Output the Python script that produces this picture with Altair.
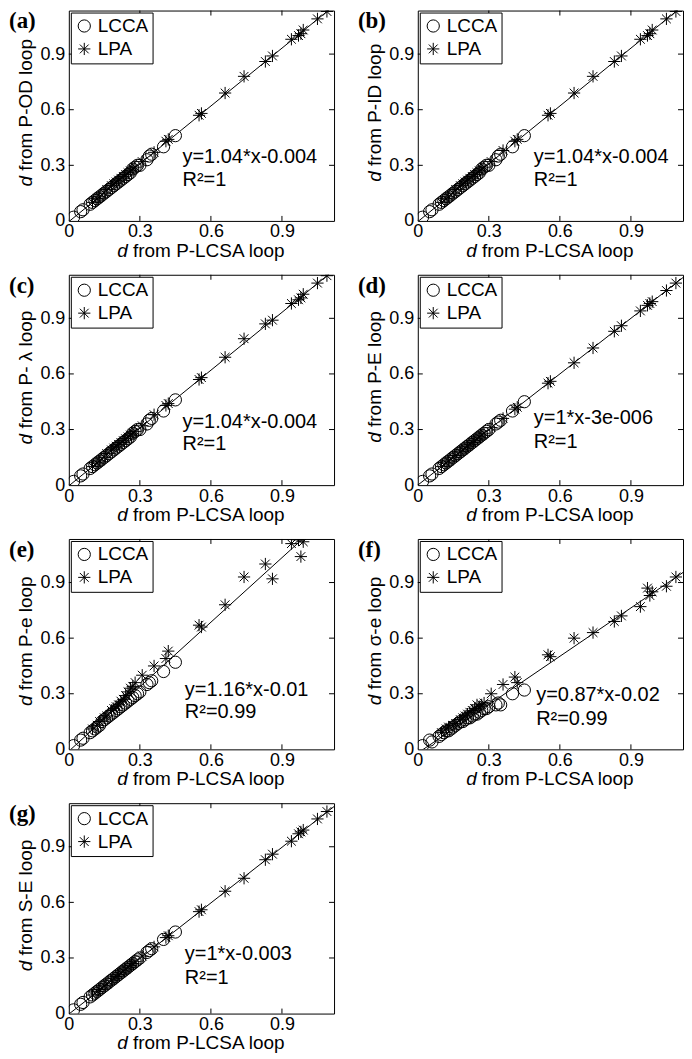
import altair as alt
import pandas as pd

# ---------------- data ----------------
panel_labels = ["(a)", "(b)", "(c)", "(d)", "(e)", "(f)", "(g)"]
y_titles = ["from P-OD loop", "from P-ID loop", "from P- λ loop", "from P-E loop",
            "from P-e loop", "from σ-e loop", "from S-E loop"]
x_title = "from P-LCSA loop"
equations = ["y=1.04*x-0.004", "y=1.04*x-0.004", "y=1.04*x-0.004", "y=1*x-3e-006",
             "y=1.16*x-0.01", "y=0.87*x-0.02", "y=1*x-0.003"]
r2_texts = ["R²=1", "R²=1", "R²=1", "R²=1", "R²=0.99", "R²=0.99", "R²=1"]
fit_slopes = [1.04, 1.04, 1.04, 1.0, 1.16, 0.87, 1.0]
fit_intercepts = [-0.004, -0.004, -0.004, -0.000003, -0.01, -0.02, -0.003]
eq_x = [0.48, 0.49, 0.48, 0.49, 0.49, 0.50, 0.49]
eq_y = [0.31, 0.31, 0.31, 0.33, 0.29, 0.26, 0.29]
r2_y = [0.19, 0.19, 0.19, 0.20, 0.17, 0.13, 0.16]
tick_values = [0, 0.3, 0.6, 0.9]
inner_ticks = [0.3, 0.6, 0.9]
fit_x = [0.0, 1.12]

# d from P-LCSA loop (shared x values)
lcca_x = [0.02, 0.05, 0.06, 0.09, 0.10, 0.11, 0.12, 0.13, 0.14, 0.15, 0.16, 0.17, 0.18, 0.19, 0.20,
          0.21, 0.22, 0.23, 0.24, 0.25, 0.26, 0.27, 0.28, 0.29, 0.30, 0.33, 0.34, 0.35, 0.40, 0.45]
lpa_x = [0.10, 0.12, 0.13, 0.15, 0.16, 0.18, 0.19, 0.20, 0.21, 0.22, 0.23, 0.24, 0.25, 0.26, 0.27, 0.28,
         0.31, 0.36, 0.41, 0.42, 0.55, 0.56, 0.66, 0.74, 0.83, 0.86, 0.94, 0.97, 0.98, 0.99, 1.05, 1.09]

# (a) P-OD
pod_lcca = [0.02, 0.05, 0.06, 0.09, 0.10, 0.11, 0.12, 0.13, 0.14, 0.15, 0.16, 0.17, 0.18, 0.19, 0.20,
            0.21, 0.22, 0.23, 0.24, 0.25, 0.26, 0.28, 0.29, 0.30, 0.30, 0.33, 0.35, 0.36, 0.40, 0.46]
pod_lpa = [0.10, 0.12, 0.13, 0.15, 0.17, 0.19, 0.20, 0.21, 0.22, 0.23, 0.24, 0.25, 0.26, 0.27, 0.28, 0.29,
           0.32, 0.37, 0.43, 0.44, 0.57, 0.58, 0.69, 0.78, 0.86, 0.89, 0.98, 1.00, 1.01, 1.03, 1.09, 1.13]
# (b) P-ID
pid_lcca = [0.02, 0.05, 0.06, 0.09, 0.10, 0.11, 0.12, 0.13, 0.14, 0.15, 0.16, 0.17, 0.18, 0.19, 0.20,
            0.21, 0.22, 0.23, 0.24, 0.25, 0.26, 0.28, 0.29, 0.30, 0.30, 0.33, 0.35, 0.36, 0.40, 0.46]
pid_lpa = [0.10, 0.12, 0.13, 0.15, 0.17, 0.19, 0.20, 0.21, 0.22, 0.23, 0.24, 0.25, 0.26, 0.27, 0.28, 0.29,
           0.32, 0.38, 0.43, 0.44, 0.57, 0.58, 0.69, 0.78, 0.86, 0.89, 0.98, 1.00, 1.01, 1.03, 1.09, 1.13]
# (c) P-lambda
plam_lcca = [0.02, 0.05, 0.06, 0.09, 0.10, 0.11, 0.12, 0.13, 0.14, 0.15, 0.16, 0.17, 0.18, 0.19, 0.20,
             0.21, 0.22, 0.23, 0.24, 0.25, 0.26, 0.28, 0.29, 0.30, 0.30, 0.33, 0.35, 0.36, 0.40, 0.46]
plam_lpa = [0.10, 0.12, 0.13, 0.15, 0.17, 0.19, 0.20, 0.21, 0.22, 0.23, 0.24, 0.25, 0.26, 0.27, 0.28, 0.29,
            0.32, 0.38, 0.43, 0.44, 0.57, 0.58, 0.69, 0.79, 0.87, 0.89, 0.98, 1.00, 1.01, 1.03, 1.09, 1.13]
# (d) P-E
pe_lcca = [0.02, 0.05, 0.06, 0.09, 0.10, 0.11, 0.12, 0.13, 0.14, 0.15, 0.16, 0.17, 0.18, 0.19, 0.20,
           0.21, 0.22, 0.23, 0.24, 0.25, 0.26, 0.27, 0.28, 0.29, 0.30, 0.33, 0.34, 0.35, 0.40, 0.45]
pe_lpa = [0.10, 0.12, 0.13, 0.15, 0.16, 0.18, 0.19, 0.20, 0.21, 0.22, 0.23, 0.24, 0.25, 0.26, 0.27, 0.28,
          0.31, 0.36, 0.41, 0.42, 0.55, 0.56, 0.66, 0.74, 0.83, 0.86, 0.94, 0.97, 0.98, 0.99, 1.05, 1.09]
# (e) P-e
pse_lcca = [0.02, 0.05, 0.06, 0.09, 0.10, 0.11, 0.12, 0.13, 0.15, 0.16, 0.17, 0.18, 0.19, 0.20, 0.21,
            0.22, 0.23, 0.24, 0.25, 0.26, 0.27, 0.28, 0.29, 0.30, 0.31, 0.35, 0.36, 0.37, 0.42, 0.47]
pse_lpa = [0.11, 0.13, 0.15, 0.17, 0.18, 0.21, 0.22, 0.23, 0.24, 0.26, 0.27, 0.29, 0.31, 0.33, 0.34, 0.36,
           0.40, 0.45, 0.49, 0.53, 0.67, 0.66, 0.78, 0.93, 1.00, 0.92, 1.11, 1.13, 1.04, 1.12, 1.21, 1.26]
# (f) sigma-e
sige_lcca = [0.02, 0.05, 0.04, 0.07, 0.08, 0.09, 0.10, 0.10, 0.11, 0.12, 0.13, 0.14, 0.15, 0.15, 0.16,
             0.17, 0.17, 0.18, 0.19, 0.19, 0.20, 0.21, 0.22, 0.22, 0.23, 0.24, 0.25, 0.24, 0.30, 0.32]
sige_lpa = [0.09, 0.11, 0.12, 0.13, 0.14, 0.16, 0.17, 0.18, 0.19, 0.20, 0.21, 0.22, 0.24, 0.23, 0.24, 0.25,
            0.30, 0.35, 0.39, 0.36, 0.51, 0.50, 0.60, 0.63, 0.69, 0.72, 0.77, 0.87, 0.83, 0.85, 0.88, 0.93]
# (g) S-E
se_lcca = [0.02, 0.05, 0.06, 0.09, 0.10, 0.11, 0.12, 0.13, 0.14, 0.15, 0.16, 0.17, 0.18, 0.19, 0.20,
           0.21, 0.22, 0.23, 0.24, 0.25, 0.26, 0.27, 0.28, 0.29, 0.30, 0.33, 0.34, 0.35, 0.40, 0.44]
se_lpa = [0.10, 0.12, 0.13, 0.15, 0.16, 0.18, 0.19, 0.20, 0.21, 0.22, 0.23, 0.24, 0.25, 0.26, 0.27, 0.28,
          0.31, 0.36, 0.41, 0.42, 0.55, 0.56, 0.66, 0.73, 0.83, 0.86, 0.93, 0.97, 0.98, 0.99, 1.05, 1.09]

lcca_ys = [pod_lcca, pid_lcca, plam_lcca, pe_lcca, pse_lcca, sige_lcca, se_lcca]
lpa_ys = [pod_lpa, pid_lpa, plam_lpa, pe_lpa, pse_lpa, sige_lpa, se_lpa]

# ---------------- style ----------------
W, H = 266, 211
FS = 19       # legend / titles
LFS = 18      # tick labels
SANS = "Liberation Sans"
STAR = "M-1,0L1,0M0,-1L0,1M-0.72,-0.72L0.72,0.72M-0.72,0.72L0.72,-0.72"
ARIAL_W = {'d': .556, 'f': .278, 'r': .333, 'o': .556, 'm': .833, ' ': .278, 'P': .667, '-': .333,
           'O': .778, 'D': .722, 'I': .278, 'E': .667, 'e': .556, 'S': .667, 'L': .556, 'C': .722,
           'A': .667, 'l': .222, 'p': .556, 'λ': .56, 'σ': .6}


def tw(s, fs=FS):
    return sum(ARIAL_W.get(c, .556) for c in s) * fs


xs = alt.Scale(domain=[0, 1.12], nice=False, zero=False)
ys = alt.Scale(domain=[0, 1.135], nice=False, zero=False)
XAXIS = alt.Axis(values=tick_values, format="~g", title=None, ticks=False, domain=False,
                 grid=False, labelFontSize=LFS, labelFont=SANS, labelColor="black",
                 labelPadding=2, labelFlush=False, labelOverlap=False)
YAXIS = alt.Axis(values=tick_values, format="~g", title=None, ticks=False, domain=False,
                 grid=False, labelFontSize=LFS, labelFont=SANS, labelColor="black",
                 labelPadding=4, labelFlush=False, labelOverlap=False)


def X(field):
    return alt.X(field, scale=xs, axis=XAXIS)


def Y(field):
    return alt.Y(field, scale=ys, axis=YAXIS)


def make_panel(i):
    pts = pd.DataFrame({
        "x": lcca_x + lpa_x,
        "y": lcca_ys[i] + lpa_ys[i],
        "method": ["LCCA"] * len(lcca_x) + ["LPA"] * len(lpa_x),
    })
    line_df = pd.DataFrame({"x": fit_x,
                            "y": [fit_slopes[i] * v + fit_intercepts[i] for v in fit_x]})

    line = alt.Chart(line_df).mark_line(color="black", strokeWidth=1, clip=True).encode(
        x=X("x:Q"), y=Y("y:Q"))
    points = alt.Chart(pts).mark_point(filled=False, color="black", size=150, strokeWidth=1,
                                       opacity=1, clip=True).encode(
        x=X("x:Q"), y=Y("y:Q"),
        shape=alt.Shape("method:N",
                        scale=alt.Scale(domain=["LCCA", "LPA"], range=["circle", STAR]),
                        legend=alt.Legend(title=None, orient="top-left", offset=2,
                                          strokeColor="black", fillColor="white", padding=4,
                                          labelFontSize=FS, labelFont=SANS, labelColor="black",
                                          symbolSize=150, symbolStrokeWidth=1,
                                          symbolStrokeColor="black", rowPadding=3,
                                          labelOffset=4, labelLimit=200)),
    )
    tdf = pd.DataFrame({"t": inner_ticks})
    tick_b = alt.Chart(tdf).mark_rule(color="black").encode(
        x=X("t:Q"), y=alt.value(H), y2=alt.value(H - 5))
    tick_t = alt.Chart(tdf).mark_rule(color="black").encode(
        x=X("t:Q"), y=alt.value(0), y2=alt.value(5))
    tick_l = alt.Chart(tdf).mark_rule(color="black").encode(
        y=Y("t:Q"), x=alt.value(0), x2=alt.value(5))
    tick_r = alt.Chart(tdf).mark_rule(color="black").encode(
        y=Y("t:Q"), x=alt.value(W), x2=alt.value(W - 5))

    eq_df = pd.DataFrame({"x": [eq_x[i], eq_x[i]], "y": [eq_y[i], r2_y[i]],
                          "t": [equations[i], r2_texts[i]]})
    eq = alt.Chart(eq_df).mark_text(align="left", baseline="alphabetic", fontSize=FS + 1,
                                    font=SANS, color="black").encode(
        x=X("x:Q"), y=Y("y:Q"), text="t:N")

    lab = alt.Chart(pd.DataFrame({"t": [panel_labels[i]]})).mark_text(
        align="left", baseline="top", fontSize=23, fontWeight="bold", font="Liberation Serif",
        color="black").encode(x=alt.value(-60), y=alt.value(0), text="t:N")

    # x title: italic d + rest
    lx = tw("d " + x_title)
    x0 = W / 2 - lx / 2
    ty = H + 30
    xt_d = alt.Chart(pd.DataFrame({"t": ["d"]})).mark_text(
        align="left", baseline="middle", fontSize=FS, font=SANS, fontStyle="italic",
        color="black").encode(x=alt.value(x0), y=alt.value(ty), text="t:N")
    xt_r = alt.Chart(pd.DataFrame({"t": [x_title]})).mark_text(
        align="left", baseline="middle", fontSize=FS, font=SANS, color="black").encode(
        x=alt.value(x0 + tw("d ")), y=alt.value(ty), text="t:N")

    # y title: rotated, italic d + rest
    ly = tw("d " + y_titles[i])
    y0 = H / 2 - 3 + ly / 2
    yt_d = alt.Chart(pd.DataFrame({"t": ["d"]})).mark_text(
        align="left", baseline="middle", fontSize=FS, font=SANS, fontStyle="italic", angle=270,
        color="black").encode(x=alt.value(-43), y=alt.value(y0), text="t:N")
    yt_r = alt.Chart(pd.DataFrame({"t": [y_titles[i]]})).mark_text(
        align="left", baseline="middle", fontSize=FS, font=SANS, angle=270,
        color="black").encode(x=alt.value(-43), y=alt.value(y0 - tw("d ")), text="t:N")

    return alt.layer(line, points, tick_b, tick_t, tick_l, tick_r, eq, lab,
                     xt_d, xt_r, yt_d, yt_r).properties(width=W, height=H)


panels = [make_panel(i) for i in range(7)]

chart = alt.concat(*panels, columns=2, spacing={"row": 12, "column": 22}).resolve_scale(
    shape="independent").resolve_legend(shape="independent").properties(
    padding=0, background="white").configure_view(stroke="black", strokeWidth=1)

chart.save("out.html", embed_options={"renderer": "svg", "actions": False})
